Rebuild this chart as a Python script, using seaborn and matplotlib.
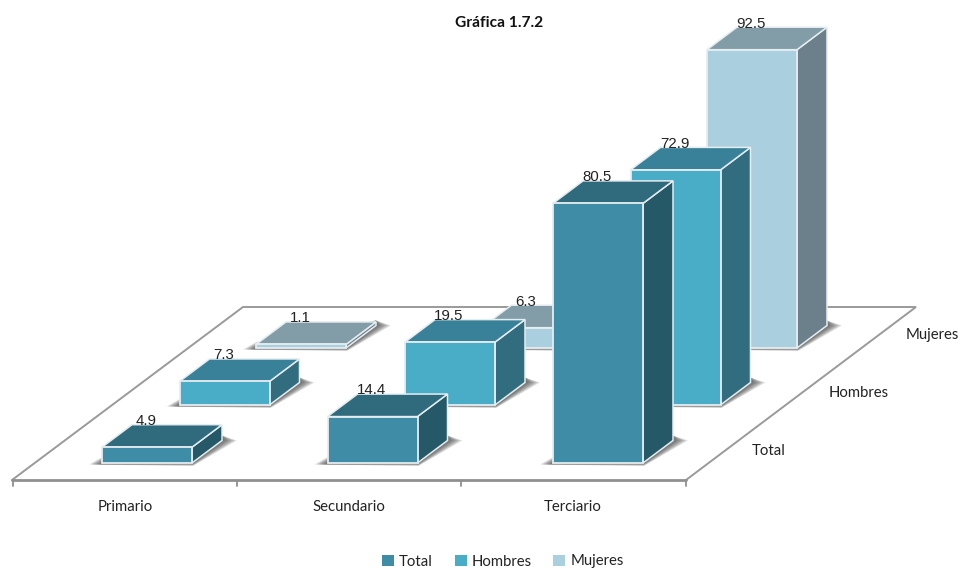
import numpy as np
import pandas as pd
import matplotlib
matplotlib.use("Agg")
import matplotlib.pyplot as plt
from matplotlib.patches import Polygon, Patch
import seaborn as sns

categories = ["Primario", "Secundario", "Terciario"]
series_names = ["Total", "Hombres", "Mujeres"]
total = [4.9, 14.4, 80.5]
hombres = [7.3, 19.5, 72.9]
mujeres = [1.1, 6.3, 92.5]

front_colors = ["#3E8CA6", "#4AADC8", "#AACFDE"]
top_colors = ["#2F6B7D", "#388199", "#829DA8"]
side_colors = ["#255967", "#316D7E", "#6C808C"]

W, H = 959, 569
CAT_PX = 225.5          # pixels per category
VAL_PX = 3.225          # pixels per value unit
BAR_W = 90 / CAT_PX     # bar width in category units
DX, DY = 30 / CAT_PX, 22.5 / VAL_PX   # depth of a bar in data units
LEFTS = [34.25, 111.75, 188.25]       # axes left, pixels
BASES = [463, 405, 348]               # axes baseline, pixels
EDGE = "#E6EDF0"
FONT = "Lato"
LABEL_SIZE = 10.7

sns.set_theme(style="white")
plt.rcParams["font.family"] = [FONT, "DejaVu Sans"]

df = pd.DataFrame({
    "Nivel": categories * 3,
    "Serie": np.repeat(series_names, 3),
    "Valor": total + hombres + mujeres,
})

fig = plt.figure(figsize=(W / 100, H / 100), dpi=100, facecolor="white")

# floor and its axis, in figure pixels
base = fig.add_axes([0, 0, 1, 1], zorder=0)
base.set_xlim(0, W)
base.set_ylim(H, 0)
base.set_axis_off()
floor_x = [12, 243, 916, 686]
floor_y = [480, 307, 307, 480]
base.plot(floor_x, floor_y, color="#9A9A9A", lw=1.4, solid_joinstyle="miter")
base.plot([12, 686], [480, 480], color="#8F8F8F", lw=2.0)
for tx in [12.5, 237, 461, 686]:
    base.plot([tx, tx], [480, 485.5], color="#8F8F8F", lw=1.3)
for name, cx in zip(categories, [125, 348.5, 573]):
    base.text(cx, 507, name, ha="center", va="center", fontsize=LABEL_SIZE, color="#222222")
for name, lx, ly in zip(series_names, [752, 829, 906], [451, 393, 335]):
    base.text(lx, ly, name, ha="left", va="center", fontsize=LABEL_SIZE, color="#222222")
base.text(499, 23, "Gráfica 1.7.2", ha="center", va="center", fontsize=11.2,
          fontweight="bold", color="#111111")

# one axes per series, shifted along the depth direction
for s, name in enumerate(series_names):
    ax = fig.add_axes([LEFTS[s] / W, (H - BASES[s]) / H, 3 * CAT_PX / W, 100 * VAL_PX / H],
                      zorder=3 - s)
    sub = df[df["Serie"] == name]
    sns.barplot(data=sub, x="Nivel", y="Valor", order=categories, color=front_colors[s],
                saturation=1, width=BAR_W, edgecolor=EDGE, linewidth=1.3,
                errorbar=None, ax=ax)
    ax.set_xlim(-0.5, 2.5)
    ax.set_ylim(0, 100)
    ax.set_axis_off()
    ax.patch.set_visible(False)
    for bar in ax.patches:
        bar.set_clip_on(False)
        bar.set_zorder(3)
    for c, v in enumerate(sub["Valor"].to_numpy()):
        x0, x1 = c - BAR_W / 2, c + BAR_W / 2
        # soft ground shadow
        for f in np.linspace(1, 0.2, 8):
            px, py = 1 / CAT_PX, 1 / VAL_PX
            pts = [(x0 - 13 * f * px, -1.5 * py), (x1 + 1 * px, -3 * f * py),
                   (x1 + DX + 15 * f * px, DY), (x1 + DX, DY + 5 * py),
                   (x0, 6 * f * py)]
            ax.add_patch(Polygon(pts, closed=True, fc="#3A3A3A", ec="none", alpha=0.13,
                                 zorder=1, clip_on=False))
        ax.add_patch(Polygon([(x1, 0), (x1 + DX, DY), (x1 + DX, v + DY), (x1, v)], closed=True,
                             fc=side_colors[s], ec=EDGE, lw=1.1, zorder=2, clip_on=False))
        ax.add_patch(Polygon([(x0, v), (x1, v), (x1 + DX, v + DY), (x0 + DX, v + DY)], closed=True,
                             fc=top_colors[s], ec=EDGE, lw=1.1, zorder=2, clip_on=False))
        ax.text(c - 1 / CAT_PX, v + DY - 0.1, f"{v:.1f}", ha="center", va="baseline",
                fontsize=10.8, family=["Liberation Sans"], color="#222222", zorder=5, clip_on=False)

handles = [Patch(fc=col, ec="none") for col in front_colors]
fig.legend(handles, series_names, loc="center", bbox_to_anchor=(503 / W, 1 - 561.5 / H),
           ncol=3, frameon=False, fontsize=LABEL_SIZE, handlelength=0.8, handleheight=0.75,
           handletextpad=0.35, columnspacing=1.45, labelcolor="#222222", borderpad=0)

fig.savefig("out.png", dpi=100, facecolor="white")
